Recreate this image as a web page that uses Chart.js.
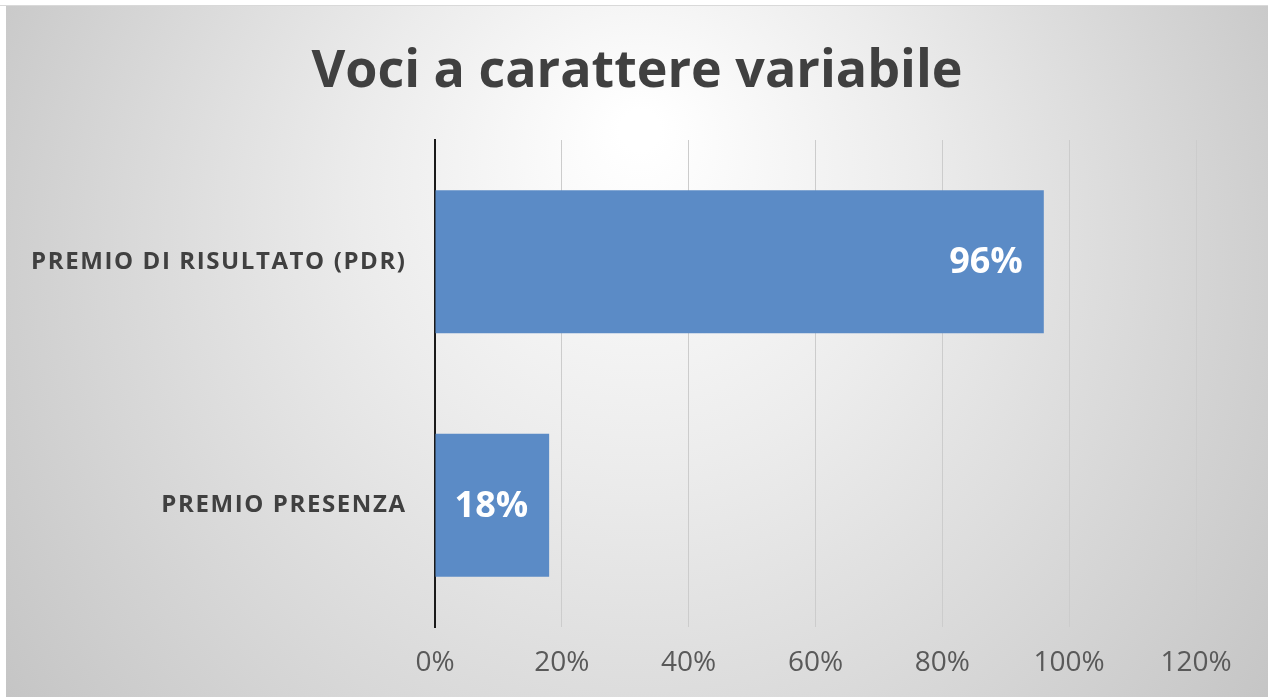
<!DOCTYPE html>
<html>
<head>
<meta charset="utf-8">
<script src="https://cdn.jsdelivr.net/npm/chart.js@4.4.1/dist/chart.umd.min.js"></script>
<style>
html,body{margin:0;padding:0;background:#ffffff;}
#wrap{position:relative;width:1268px;height:697px;}
</style>
</head>
<body>
<div id="wrap"><canvas id="c" width="1268" height="697"></canvas></div>
<script>
const chartTitle = "Voci a carattere variabile";
const categories = ["PREMIO DI RISULTATO (PDR)", "PREMIO PRESENZA"];
const values = [0.96, 0.18];
const valueLabels = ["96%", "18%"];
const xTickValues = [0, 0.2, 0.4, 0.6, 0.8, 1.0, 1.2];
const xTickLabels = ["0%", "20%", "40%", "60%", "80%", "100%", "120%"];

const bgPlugin = {
  id: 'bg',
  beforeDraw(chart) {
    const ctx = chart.ctx;
    const W = chart.width, H = chart.height;
    ctx.save();
    ctx.fillStyle = '#ffffff';
    ctx.fillRect(0, 0, W, H);
    const x0 = 6, y0 = 6, x1 = W, y1 = H;
    const g = ctx.createRadialGradient(640, 130, 20, 640, 300, 760);
    g.addColorStop(0, '#ffffff');
    g.addColorStop(0.35, '#ececec');
    g.addColorStop(1, '#c4c4c4');
    ctx.fillStyle = g;
    ctx.fillRect(x0, y0, x1 - x0, y1 - y0);
    ctx.strokeStyle = '#d9d9d9';
    ctx.lineWidth = 1;
    ctx.beginPath();
    ctx.moveTo(0, 5.5); ctx.lineTo(W, 5.5);
    ctx.stroke();
    ctx.restore();
  }
};

const textPlugin = {
  id: 'texts',
  afterDraw(chart) {
    const ctx = chart.ctx;
    ctx.save();
    // title
    ctx.font = 'bold 52px "Open Sans"';
    ctx.fillStyle = '#404040';
    ctx.textAlign = 'center';
    ctx.textBaseline = 'alphabetic';
    ctx.fillText(chartTitle, 637, 87);
    // category labels
    const ys = chart.scales.y;
    ctx.font = 'bold 24px "Open Sans"';
    ctx.fillStyle = '#404040';
    ctx.textAlign = 'right';
    ctx.textBaseline = 'middle';
    if ('letterSpacing' in ctx) ctx.letterSpacing = '1.6px';
    categories.forEach((c, i) => {
      ctx.fillText(c, ys.right - 30 + 1.6, ys.getPixelForValue(i));
    });
    if ('letterSpacing' in ctx) ctx.letterSpacing = '0px';
    ctx.restore();
  },
  afterDatasetsDraw(chart) {
    const ctx = chart.ctx;
    const meta = chart.getDatasetMeta(0);
    ctx.save();
    ctx.font = 'bold 36px "Open Sans"';
    ctx.fillStyle = '#ffffff';
    ctx.textAlign = 'right';
    ctx.textBaseline = 'middle';
    meta.data.forEach((bar, i) => {
      ctx.fillText(valueLabels[i], bar.x - 21, bar.y + 1);
    });
    ctx.restore();
  }
};

new Chart(document.getElementById('c'), {
  type: 'bar',
  data: {
    labels: categories,
    datasets: [{
      data: values,
      backgroundColor: '#5b8bc6',
      borderWidth: 0,
      barPercentage: 0.587,
      categoryPercentage: 1.0
    }]
  },
  options: {
    indexAxis: 'y',
    responsive: false,
    animation: false,
    events: [],
    layout: { padding: { left: 6, top: 140, right: 72, bottom: 10 } },
    plugins: {
      legend: { display: false },
      tooltip: { enabled: false },
      title: { display: false }
    },
    scales: {
      x: {
        min: 0, max: 1.2,
        afterBuildTicks(scale) { scale.ticks = xTickValues.map(v => ({ value: v })); },
        afterFit(scale) { scale.height = 60; },
        grid: { color: '#cccccc', lineWidth: 1, drawTicks: false },
        border: { display: false },
        ticks: {
          padding: 19,
          color: '#595959',
          font: { family: '"Open Sans"', size: 28 },
          callback: (v, i) => xTickLabels[i]
        }
      },
      y: {
        afterFit(scale) { scale.width = 429; },
        grid: { display: false, drawTicks: false },
        border: { display: true, color: '#1a1a1a', width: 2 },
        ticks: { display: false }
      }
    }
  },
  plugins: [bgPlugin, textPlugin]
});
</script>
</body>
</html>
